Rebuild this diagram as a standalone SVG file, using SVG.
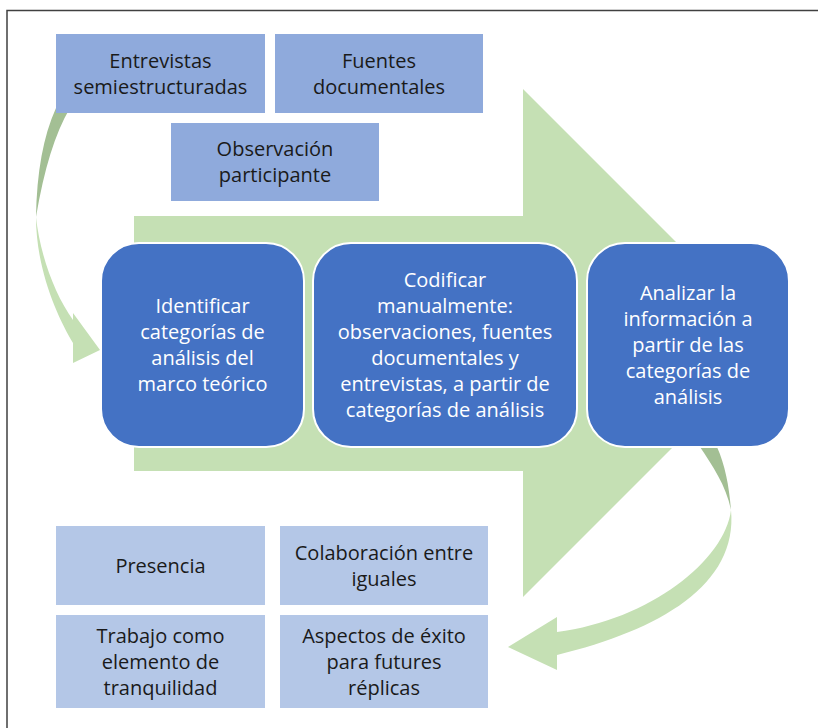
<svg xmlns="http://www.w3.org/2000/svg" width="818" height="728" viewBox="0 0 818 728">
<style>
text{font-family:"Open Sans","Liberation Sans",sans-serif;font-size:20px;text-anchor:middle}
.src{fill:#8FAADC}
.res{fill:#B4C7E7}
.dk{fill:#1a1a1a}
.step{fill:#4472C4;stroke:#FFFFFF;stroke-width:2}
.wt{fill:#FFFFFF}
.lg{fill:#C5E0B4}
.dg{fill:#A3BF94}
</style>
<rect width="818" height="728" fill="#FFFFFF"/>
<path d="M7,728 V10.5 H818" fill="none" stroke="#404040" stroke-width="1.5"/>
<g id="connectors">
<path id="main-arrow" class="lg" d="M134,216 H523 V89 L777,343 L523,597 V471 H134 Z"/>
<path class="dg" d="M56,108 Q37,150 36,217 Q48,145 70,108 Z"/>
<path class="lg" d="M36,217 C36,270 58,318 73,343 L73,363 L100,350 L73,313 L73,320 C55,295 40,255 36,217 Z"/>
<path class="dg" d="M700,447 C712,465 726,485 731,510 C729,485 725,465 717,447 Z"/>
<path class="lg" d="M731,510 C738,585 660,630 557,655 L557,670 L508,647 L557,617 L557,632 C650,620 725,560 731,510 Z"/>
</g>
<g id="entrevistas">
<rect class="src" x="56" y="34" width="209" height="79"/>
<text class="dk" x="160.5" y="67.5">Entrevistas</text>
<text class="dk" x="160.5" y="93.5">semiestructuradas</text>
</g>
<g id="fuentes">
<rect class="src" x="275" y="34" width="208" height="79"/>
<text class="dk" x="379" y="67.5">Fuentes</text>
<text class="dk" x="379" y="93.5">documentales</text>
</g>
<g id="observacion">
<rect class="src" x="171" y="123" width="208" height="78"/>
<text class="dk" x="275" y="156">Observación</text>
<text class="dk" x="275" y="182">participante</text>
</g>
<g id="identificar">
<rect class="step" x="101" y="243" width="203" height="204" rx="38" ry="38"/>
<text class="wt" x="202.5" y="313">Identificar</text>
<text class="wt" x="202.5" y="339">categorías de</text>
<text class="wt" x="202.5" y="365">análisis del</text>
<text class="wt" x="202.5" y="391">marco teórico</text>
</g>
<g id="codificar">
<rect class="step" x="313" y="243" width="264" height="204" rx="38" ry="38"/>
<text class="wt" x="445" y="287">Codificar</text>
<text class="wt" x="445" y="313">manualmente:</text>
<text class="wt" x="445" y="339">observaciones, fuentes</text>
<text class="wt" x="445" y="365">documentales y</text>
<text class="wt" x="445" y="391">entrevistas, a partir de</text>
<text class="wt" x="445" y="417">categorías de análisis</text>
</g>
<g id="analizar">
<rect class="step" x="587" y="243" width="202" height="204" rx="38" ry="38"/>
<text class="wt" x="688" y="300">Analizar la</text>
<text class="wt" x="688" y="326">información a</text>
<text class="wt" x="688" y="352">partir de las</text>
<text class="wt" x="688" y="378">categorías de</text>
<text class="wt" x="688" y="404">análisis</text>
</g>
<g id="presencia">
<rect class="res" x="56" y="526" width="209" height="79"/>
<text class="dk" x="160.5" y="572.5">Presencia</text>
</g>
<g id="colaboracion">
<rect class="res" x="280" y="526" width="208" height="79"/>
<text class="dk" x="384" y="559.5">Colaboración entre</text>
<text class="dk" x="384" y="585.5">iguales</text>
</g>
<g id="trabajo">
<rect class="res" x="56" y="615" width="209" height="93"/>
<text class="dk" x="160.5" y="642.5">Trabajo como</text>
<text class="dk" x="160.5" y="668.5">elemento de</text>
<text class="dk" x="160.5" y="694.5">tranquilidad</text>
</g>
<g id="aspectos">
<rect class="res" x="280" y="615" width="208" height="93"/>
<text class="dk" x="384" y="642.5">Aspectos de éxito</text>
<text class="dk" x="384" y="668.5">para futures</text>
<text class="dk" x="384" y="694.5">réplicas</text>
</g>
</svg>
